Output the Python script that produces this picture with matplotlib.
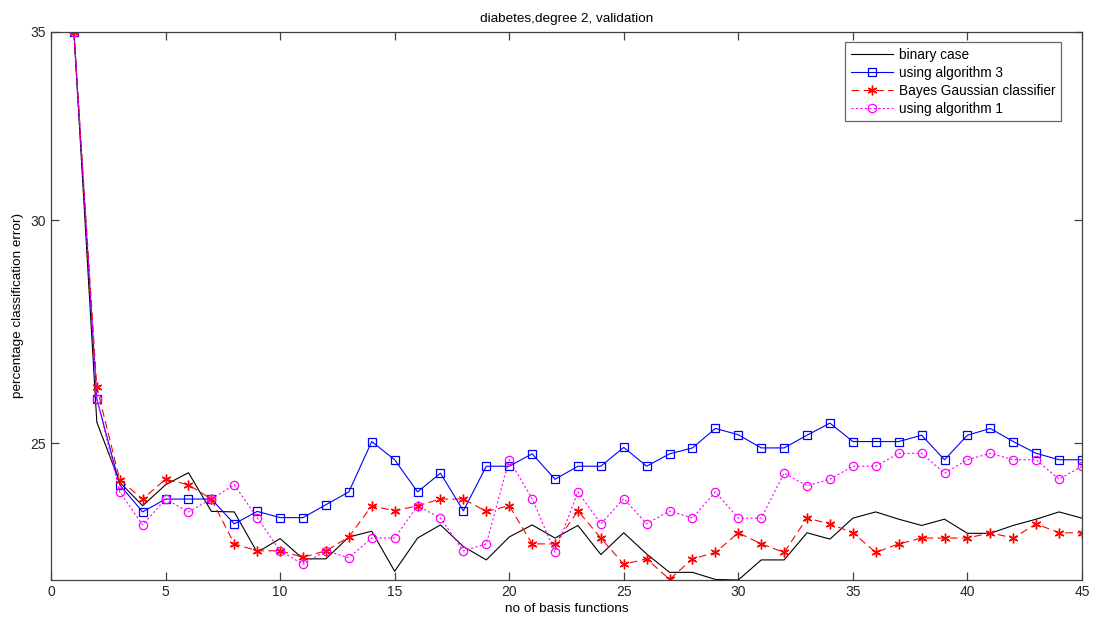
import matplotlib
matplotlib.use('Agg')
import matplotlib.pyplot as plt
from matplotlib.ticker import FixedLocator, NullLocator, FixedFormatter

plt.rcParams['font.family'] = ['Liberation Sans', 'DejaVu Sans']

# ---------------------------------------------------------------
# data (percentage classification error)
# ---------------------------------------------------------------
n_basis = list(range(1, 46))

binary_case = [35.0, 25.43, 24.21, 23.75, 24.16, 24.40, 23.64, 23.63, 22.86, 23.12,
               22.74, 22.74, 23.15, 23.26, 22.51, 23.13, 23.38, 22.97, 22.72, 23.15,
               23.38, 23.13, 23.37, 22.82, 23.23, 22.83, 22.49, 22.49, 22.36, 22.35,
               22.72, 22.72, 23.23, 23.11, 23.51, 23.63, 23.49, 23.37, 23.49, 23.22,
               23.22, 23.37, 23.49, 23.63, 23.51]

algorithm_3 = [35.0, 25.92, 24.16, 23.63, 23.88, 23.88, 23.88, 23.40, 23.64, 23.52,
               23.52, 23.77, 24.02, 25.03, 24.66, 24.02, 24.39, 23.65, 24.53, 24.53,
               24.78, 24.27, 24.53, 24.53, 24.91, 24.53, 24.78, 24.90, 25.30, 25.17,
               24.90, 24.90, 25.16, 25.41, 25.03, 25.03, 25.03, 25.16, 24.66, 25.16,
               25.30, 25.03, 24.79, 24.66, 24.66]

bayes_gauss = [35.0, 26.17, 24.26, 23.88, 24.27, 24.16, 23.88, 23.02, 22.89, 22.89,
               22.77, 22.89, 23.15, 23.75, 23.65, 23.75, 23.88, 23.88, 23.64, 23.75,
               23.02, 23.02, 23.65, 23.13, 22.64, 22.74, 22.36, 22.74, 22.86, 23.23,
               23.02, 22.86, 23.51, 23.40, 23.23, 22.86, 23.02, 23.13, 23.13, 23.13,
               23.23, 23.13, 23.40, 23.23, 23.23]

algorithm_1 = [35.0, 25.92, 24.02, 23.38, 23.88, 23.63, 23.88, 24.16, 23.52, 22.89,
               22.64, 22.89, 22.76, 23.13, 23.13, 23.75, 23.51, 22.89, 23.02, 24.66,
               23.89, 22.86, 24.02, 23.40, 23.89, 23.40, 23.65, 23.51, 24.02, 23.51,
               23.51, 24.39, 24.14, 24.27, 24.53, 24.53, 24.79, 24.79, 24.39, 24.66,
               24.79, 24.66, 24.66, 24.27, 24.53]

x_ticks = [0, 5, 10, 15, 20, 25, 30, 35, 40, 45]
y_ticks = [25, 30, 35]

# ---------------------------------------------------------------
# figure
# ---------------------------------------------------------------
fig = plt.figure(figsize=(10.99, 6.18), dpi=100)
ax = fig.add_axes([0.0464, 0.0615, 0.9381, 0.8872])

ax.plot(n_basis, binary_case, color='black', lw=0.8, label='binary case')
ax.plot(n_basis, algorithm_3, color='blue', lw=0.8, marker='s', ms=6,
        mfc='none', mec='blue', mew=0.9, label='using algorithm 3')
ax.plot(n_basis, bayes_gauss, color='red', lw=0.8, ls=(0, (7, 4)), marker=(6, 2, 0),
        ms=7, mec='red', mfc='red', mew=1.0, label='Bayes Gaussian classifier')
ax.plot(n_basis, algorithm_1, color='magenta', lw=0.8, ls=(0, (2, 2)), marker='o',
        ms=6, mfc='none', mec='magenta', mew=0.9, label='using algorithm 1')

ax.set_yscale('log')
ax.set_xlim(0, 45)
ax.set_ylim(22.35, 35)
ax.yaxis.set_major_locator(FixedLocator(y_ticks))
ax.yaxis.set_major_formatter(FixedFormatter([str(t) for t in y_ticks]))
ax.yaxis.set_minor_locator(NullLocator())
ax.set_xticks(x_ticks)

ax.tick_params(direction='in', length=6, width=0.9, colors='#404040',
               labelsize=10, top=True, right=True, labelcolor='#262626')
for sp in ax.spines.values():
    sp.set_color('#404040')
    sp.set_linewidth(0.9)

ax.set_title('diabetes,degree 2, validation', fontsize=9.7, pad=7)
ax.set_xlabel('no of basis functions', fontsize=9.7, labelpad=3)
ax.set_ylabel('percentage classification error)', fontsize=9.7, labelpad=5)

leg = ax.legend(loc='upper right', bbox_to_anchor=(0.9797, 0.981), fontsize=9.8,
                frameon=True, fancybox=False, borderpad=0.4, labelspacing=0.3,
                handlelength=3.1, handletextpad=0.45, borderaxespad=0)
leg.get_frame().set_edgecolor('#404040')
leg.get_frame().set_linewidth(0.9)

fig.savefig('out.png', dpi=100)
